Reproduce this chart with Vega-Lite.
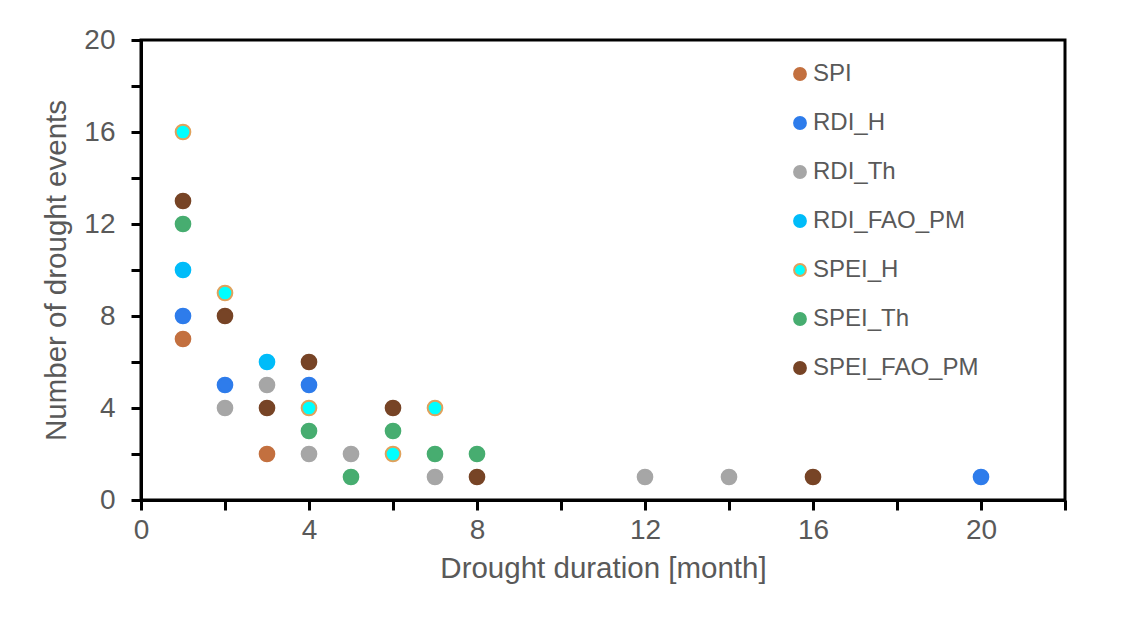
{
  "$schema": "https://vega.github.io/schema/vega-lite/v6.json",
  "width": 924,
  "height": 460,
  "autosize": "none",
  "padding": {"left": 141, "top": 40, "right": 62, "bottom": 123},
  "background": "white",
  "config": {
    "font": "Liberation Sans",
    "view": {"stroke": "black", "strokeWidth": 3},
    "axis": {
      "grid": false,
      "labelFlush": false,
      "domainColor": "black",
      "domainWidth": 3,
      "tickColor": "black",
      "tickWidth": 3,
      "tickSize": 10,
      "labelColor": "#595959",
      "labelFont": "Liberation Sans",
      "labelFontSize": 28,
      "titleColor": "#595959",
      "titleFont": "Liberation Sans",
      "titleFontSize": 29.5,
      "titleFontWeight": "normal"
    },
    "legend": {
      "labelFont": "Liberation Sans",
      "labelFontSize": 24,
      "labelColor": "#595959",
      "labelLimit": 400
    }
  },
  "data": {
    "values": [
      {"index": "SPI", "duration": 1, "events": 7},
      {"index": "SPI", "duration": 3, "events": 2},
      {"index": "RDI_H", "duration": 1, "events": 8},
      {"index": "RDI_H", "duration": 2, "events": 5},
      {"index": "RDI_H", "duration": 4, "events": 5},
      {"index": "RDI_H", "duration": 20, "events": 1},
      {"index": "RDI_Th", "duration": 2, "events": 4},
      {"index": "RDI_Th", "duration": 3, "events": 5},
      {"index": "RDI_Th", "duration": 4, "events": 2},
      {"index": "RDI_Th", "duration": 5, "events": 2},
      {"index": "RDI_Th", "duration": 7, "events": 1},
      {"index": "RDI_Th", "duration": 12, "events": 1},
      {"index": "RDI_Th", "duration": 14, "events": 1},
      {"index": "RDI_FAO_PM", "duration": 1, "events": 10},
      {"index": "RDI_FAO_PM", "duration": 3, "events": 6},
      {"index": "SPEI_H", "duration": 1, "events": 16},
      {"index": "SPEI_H", "duration": 2, "events": 9},
      {"index": "SPEI_H", "duration": 4, "events": 4},
      {"index": "SPEI_H", "duration": 6, "events": 2},
      {"index": "SPEI_H", "duration": 7, "events": 4},
      {"index": "SPEI_Th", "duration": 1, "events": 12},
      {"index": "SPEI_Th", "duration": 4, "events": 3},
      {"index": "SPEI_Th", "duration": 5, "events": 1},
      {"index": "SPEI_Th", "duration": 6, "events": 3},
      {"index": "SPEI_Th", "duration": 7, "events": 2},
      {"index": "SPEI_Th", "duration": 8, "events": 2},
      {"index": "SPEI_FAO_PM", "duration": 1, "events": 13},
      {"index": "SPEI_FAO_PM", "duration": 2, "events": 8},
      {"index": "SPEI_FAO_PM", "duration": 3, "events": 4},
      {"index": "SPEI_FAO_PM", "duration": 4, "events": 6},
      {"index": "SPEI_FAO_PM", "duration": 6, "events": 4},
      {"index": "SPEI_FAO_PM", "duration": 8, "events": 1},
      {"index": "SPEI_FAO_PM", "duration": 16, "events": 1}
    ]
  },
  "mark": {"type": "point", "filled": true, "opacity": 1, "strokeWidth": 2, "size": 215},
  "encoding": {
    "x": {
      "field": "duration",
      "type": "quantitative",
      "title": "Drought duration [month]",
      "scale": {"domain": [0, 22], "nice": false},
      "axis": {
        "values": [0, 2, 4, 6, 8, 10, 12, 14, 16, 18, 20, 22],
        "labelExpr": "datum.value % 4 == 0 && datum.value <= 20 ? datum.label : ''",
        "labelPadding": 6,
        "titlePadding": 10
      }
    },
    "y": {
      "field": "events",
      "type": "quantitative",
      "title": "Number of drought events",
      "scale": {"domain": [0, 20], "nice": false},
      "axis": {
        "values": [0, 2, 4, 6, 8, 10, 12, 14, 16, 18, 20],
        "labelExpr": "datum.value % 4 == 0 ? datum.label : ''",
        "labelPadding": 16,
        "titlePadding": 12
      }
    },
    "fill": {
      "field": "index",
      "type": "nominal",
      "sort": null,
      "scale": {
        "domain": ["SPI", "RDI_H", "RDI_Th", "RDI_FAO_PM", "SPEI_H", "SPEI_Th", "SPEI_FAO_PM"],
        "range": ["#C3703F", "#2E7CEB", "#A6A6A6", "#00BCF9", "#00FFFF", "#47AD70", "#774426"]
      },
      "legend": {
        "title": null,
        "orient": "none",
        "legendX": 647,
        "legendY": 22,
        "symbolType": "circle",
        "symbolSize": 140,
        "symbolStrokeWidth": 2,
        "rowPadding": 25,
        "labelOffset": 1,
        "padding": 0
      }
    },
    "stroke": {
      "field": "index",
      "type": "nominal",
      "sort": null,
      "scale": {
        "domain": ["SPI", "RDI_H", "RDI_Th", "RDI_FAO_PM", "SPEI_H", "SPEI_Th", "SPEI_FAO_PM"],
        "range": ["#C3703F", "#2E7CEB", "#A6A6A6", "#00BCF9", "#E0A25C", "#47AD70", "#774426"]
      },
      "legend": null
    }
  }
}
